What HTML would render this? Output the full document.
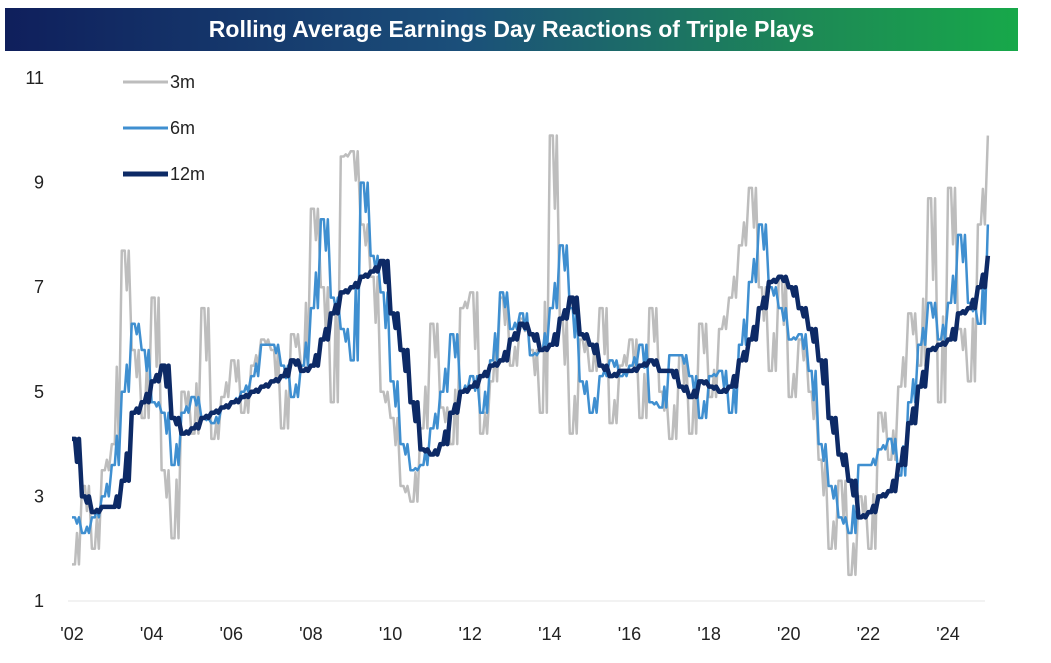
<!DOCTYPE html>
<html><head><meta charset="utf-8"><style>
body{margin:0;background:#fff;width:1051px;height:663px;overflow:hidden;font-family:"Liberation Sans",sans-serif}
#title{position:absolute;left:5px;top:8px;width:1013px;height:43px;background:linear-gradient(90deg,#0f1f5c 0%,#1b4f7a 45%,#1d8a55 80%,#17a84a 100%);color:#fff;font-weight:bold;font-size:23px;text-align:center;line-height:43px}
svg{position:absolute;left:0;top:0}
</style></head><body>
<div id="title">Rolling Average Earnings Day Reactions of Triple Plays</div>
<svg id="chart" width="1051" height="663"></svg>
<script>
const yTicks=[1,3,5,7,9,11];
const xTickLabels=["'02","'04","'06","'08","'10","'12","'14","'16","'18","'20","'22","'24"];
const xTickYears=[2002,2004,2006,2008,2010,2012,2014,2016,2018,2020,2022,2024];
const startYear=2002;
const s3m=[1.7,3.2,2.0,3.5, 4.0,7.7,5.8,4.5, 6.8,3.5,2.2,5.0, 4.2,6.6,4.1,4.9, 5.6,4.6,5.5,6.0, 5.8,4.3,6.1,5.5, 8.5,7.0,4.8,9.5, 9.6,8.2,7.2,5.0, 4.5,3.2,2.9,4.3, 6.3,4.7,4.0,6.6, 6.9,4.2,5.2,6.8, 5.5,6.4,5.8,4.6, 9.9,6.4,4.2,6.0, 5.4,6.6,4.4,5.5, 6.0,4.5,6.6,5.0, 4.1,5.7,4.2,6.3, 4.9,6.2,6.8,7.8, 8.9,7.0,5.4,7.2, 4.9,6.0,5.0,3.7, 2.0,3.3,1.5,3.0, 2.0,4.6,3.7,5.1, 6.5,5.5,8.7,4.8, 8.9,6.2,5.2,8.2, 9.9];
const s6m=[2.6,2.3,2.6,3.0, 3.6,5.0,6.3,5.8, 4.8,4.6,3.6,4.6, 4.9,4.5,4.4,4.7, 4.8,5.0,5.3,5.9, 5.9,5.5,4.9,5.5, 6.6,8.3,6.8,6.2, 5.6,9.0,7.6,6.9, 5.2,4.0,3.5,3.6, 4.3,5.0,6.1,5.0, 5.3,4.6,5.6,6.9, 6.2,6.5,5.7,5.8, 6.6,7.8,6.6,5.2, 4.6,5.3,5.6,5.3, 5.5,5.9,4.8,4.7, 5.7,5.7,5.3,4.5, 5.3,5.4,4.6,5.9, 7.1,8.2,7.0,6.6, 6.0,6.1,5.4,4.0, 3.2,2.6,2.3,3.6, 3.6,3.9,4.1,3.4, 4.8,5.9,6.7,6.0, 6.7,8.0,6.7,6.3, 8.2];
const s12m=[4.1,3.0,2.7,2.8, 2.8,3.3,4.6,4.8, 5.2,5.5,4.5,4.2, 4.3,4.5,4.6,4.7, 4.8,4.9,5.0,5.1, 5.2,5.3,5.6,5.4, 5.5,6.0,6.5,6.9, 7.0,7.2,7.3,7.5, 6.5,5.8,4.8,3.9, 3.8,4.0,4.6,5.0, 5.1,5.3,5.5,5.6, 6.0,6.3,6.1,5.8, 5.9,6.4,6.8,6.1, 5.9,5.5,5.3,5.4, 5.4,5.5,5.6,5.4, 5.4,5.1,4.9,5.2, 5.1,5.0,5.1,5.6, 6.0,6.6,7.1,7.2, 7.0,6.6,6.2,5.6, 4.5,3.8,3.3,2.6, 2.7,3.0,3.1,3.6, 4.4,5.1,5.8,5.9, 6.0,6.5,6.6,7.0, 7.6];
const NS="http://www.w3.org/2000/svg";
const svg=document.getElementById('chart');
const x=yr=>72+(yr-2002)*39.82;
const y=v=>601-(v-1)*52.3;
function mk(t,a){const e=document.createElementNS(NS,t);for(const k in a)e.setAttribute(k,a[k]);svg.appendChild(e);return e;}
yTicks.forEach(v=>{const t=mk('text',{x:44,y:y(v)+6,'text-anchor':'end','font-size':18,fill:'#222'});t.textContent=v;

});
xTickLabels.forEach((l,i)=>{const t=mk('text',{x:x(xTickYears[i]),y:640,'text-anchor':'middle','font-size':18,fill:'#222'});t.textContent=l;

});
const ax=mk('line',{x1:68,x2:985,y1:601,y2:601,stroke:'#e6e6e6','stroke-width':1});


function series(arr,color,w,name){
 let d='';arr.forEach((v,i)=>{const yr=startYear+i*0.25;const px=x(yr),py=y(v);
 if(i===0)d+='M'+px+' '+py;else{d+=' L'+(px-3)+' '+y(arr[i-1])+' L'+px+' '+py;}
 if(i<arr.length-1){const mx=x(yr+0.125);const mv=(v*0.6+arr[i+1]*0.4);d+=' L'+(mx-2)+' '+py+' L'+mx+' '+y(mv);}
 });
 const p=mk('path',{d:d,fill:'none',stroke:color,'stroke-width':w,'stroke-linejoin':'round'});
 
 
}
series(s3m,'#bdbdbd',2.5,'series-3m');
series(s6m,'#3f8fd0',2.5,'series-6m');
series(s12m,'#0d2a66',4.5,'series-12m');
const leg=[['3m','#bdbdbd',3,82],['6m','#3f8fd0',3,128],['12m','#0d2a66',5,174]];
leg.forEach(l=>{const ln=mk('line',{x1:123,x2:168,y1:l[3],y2:l[3],stroke:l[1],'stroke-width':l[2]});


const t=mk('text',{x:170,y:l[3]+6,'font-size':18,fill:'#222'});t.textContent=l[0];

});
</script>
</body></html>
